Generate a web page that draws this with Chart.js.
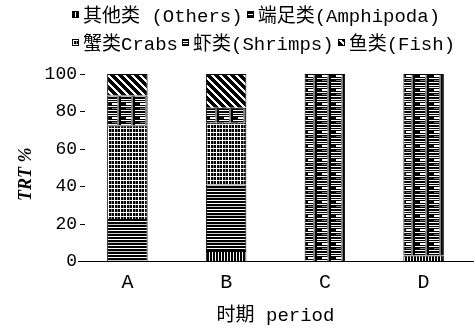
<!DOCTYPE html>
<html>
<head>
<meta charset="utf-8">
<script src="https://cdn.jsdelivr.net/npm/chart.js@4/dist/chart.umd.min.js"></script>
<style>
  html, body { margin: 0; padding: 0; background: #fff; }
  #wrap { position: relative; width: 475px; height: 329px; }
  #legend { position: absolute; left: 72px; top: 0px; font: 19px 'Liberation Mono', 'Noto Sans CJK SC', monospace; color: #000; }
  .row { display: flex; align-items: center; height: 28px; white-space: pre; }
  .sw { width: 5px; height: 5px; border: 1px solid #000; margin-right: 4px; }
  .item { display: flex; align-items: center; margin-right: 4px; }
</style>
</head>
<body>
<div id="wrap">
  <canvas id="c" width="475" height="329"></canvas>
  <div id="legend"></div>
</div>
<script>
// Periods and dietary composition (TRT %) per prey group
const categories = ['A', 'B', 'C', 'D'];
const seriesNames = ['其他类 (Others)', '端足类(Amphipoda)', '蟹类Crabs', '虾类(Shrimps)', '鱼类(Fish)'];
const others    = [0,    5.5,  0,   3];
const amphipoda = [22.5, 35.5, 0,   0];
const crabs     = [50,   33,   0,   0];
const shrimps   = [16,   8,    100, 97];
const fish      = [11.5, 18,   0,   0];
const yTicks    = [0, 20, 40, 60, 80, 100];
const legendRows = [[0, 1], [2, 3, 4]];

// Monochrome fill tiles: K = black, W = white, G = grey, L = light grey
const PALETTE = { K: '#000000', W: '#ffffff', G: '#808080', L: '#c8c8c8' };
function tile(rows) {
  const c = document.createElement('canvas');
  c.width = rows[0].length; c.height = rows.length;
  const g = c.getContext('2d');
  rows.forEach((r, y) => { [...r].forEach((ch, x) => { g.fillStyle = PALETTE[ch]; g.fillRect(x, y, 1, 1); }); });
  return c;
}
function diagTile(n, w) {
  const rows = [];
  for (let y = 0; y < n; y++) {
    let r = '';
    for (let x = 0; x < n; x++) r += (((x - y) % n + n) % n) < w ? 'W' : 'K';
    rows.push(r);
  }
  return tile(rows);
}
const tiles = [
  tile(['KKW']),                                              // vertical bars
  tile(['K', 'K', 'W', 'K', 'K', 'W', 'K', 'K', 'L']),        // horizontal lines
  tile(['WWWWWW', 'WKKGKK', 'WKKGKK', 'WKKGKK']),             // grid
  tile([                                                      // plaid
    'KKKKKGGKKKKKKK',
    'WWWWWGGKKWWWWW',
    'KKKKKGGKKKKKKK',
    'WWWWWGGKKWWWWW',
    'KKKKKGGKKKKKKK',
    'WWWWWLGKKKKKKK',
    'WWWWWLGKKKKKKK',
    'KKKKKGGKKKKKKK',
    'WWWWWGGKKWWWWW',
    'KKKKKGGKKKKKKK',
    'GGGGGGGKKKKKKK',
    'KKKKKGGKKKKKKK',
    'WWWWWGGKKWWWWW',
    'KKKKKGGKKKKKKK'
  ]),
  diagTile(8, 3)                                              // diagonal stripes
];

const ctx = document.getElementById('c').getContext('2d');
const patterns = tiles.map(t => ctx.createPattern(t, 'repeat'));
const values = [others, amphipoda, crabs, shrimps, fish];

// Legend built from the series names and their fills
const legend = document.getElementById('legend');
legendRows.forEach(idx => {
  const row = document.createElement('div');
  row.className = 'row';
  idx.forEach(i => {
    const item = document.createElement('div');
    item.className = 'item';
    const sw = document.createElement('canvas');
    sw.width = 5; sw.height = 5; sw.className = 'sw';
    const sg = sw.getContext('2d');
    sg.fillStyle = sg.createPattern(tiles[i], 'repeat');
    sg.fillRect(0, 0, 5, 5);
    const tx = document.createElement('span');
    tx.textContent = seriesNames[i];
    item.appendChild(sw); item.appendChild(tx);
    row.appendChild(item);
  });
  legend.appendChild(row);
});

// Short inward tick marks on the value axis
const innerTicks = {
  id: 'innerTicks',
  afterDraw(chart) {
    const y = chart.scales.y, left = chart.chartArea.left, g = chart.ctx;
    g.save();
    g.strokeStyle = '#000'; g.lineWidth = 1;
    y.ticks.forEach(t => {
      const py = Math.round(y.getPixelForValue(t.value)) + 0.5;
      g.beginPath(); g.moveTo(left + 2, py); g.lineTo(left + 7, py); g.stroke();
    });
    g.restore();
  }
};

new Chart(ctx, {
  type: 'bar',
  data: {
    labels: categories,
    datasets: values.map((v, i) => ({
      label: seriesNames[i],
      data: v,
      backgroundColor: patterns[i],
      borderColor: '#000',
      borderWidth: 1,
      categoryPercentage: 1,
      barPercentage: 0.41
    }))
  },
  options: {
    responsive: false,
    animation: false,
    layout: { padding: { top: 74, left: 8, right: 2, bottom: 2 } },
    plugins: { legend: { display: false }, tooltip: { enabled: false } },
    scales: {
      x: {
        stacked: true,
        grid: { display: false },
        border: { display: true, color: '#000', width: 1 },
        ticks: { color: '#000', padding: 2, font: { family: "'Liberation Mono', monospace", size: 20 } },
        title: {
          display: true, text: '时期 period', color: '#000',
          font: { family: "'Liberation Mono', 'Noto Sans CJK SC', monospace", size: 19 },
          padding: { top: 7, bottom: 0 }
        }
      },
      y: {
        stacked: true,
        min: 0, max: 100,
        afterBuildTicks(scale) { scale.ticks = yTicks.map(v => ({ value: v })); },
        grid: { display: false, tickLength: 0 },
        border: { display: false },
        ticks: { color: '#000', padding: 1, font: { family: "'Liberation Mono', monospace", size: 18 } },
        title: {
          display: true, text: 'TRT %   ', color: '#000',
          font: { family: "'Liberation Serif', serif", size: 18, style: 'italic', weight: 'bold' },
          padding: { top: 8, bottom: 6 }
        }
      }
    }
  },
  plugins: [innerTicks]
});
</script>
</body>
</html>
